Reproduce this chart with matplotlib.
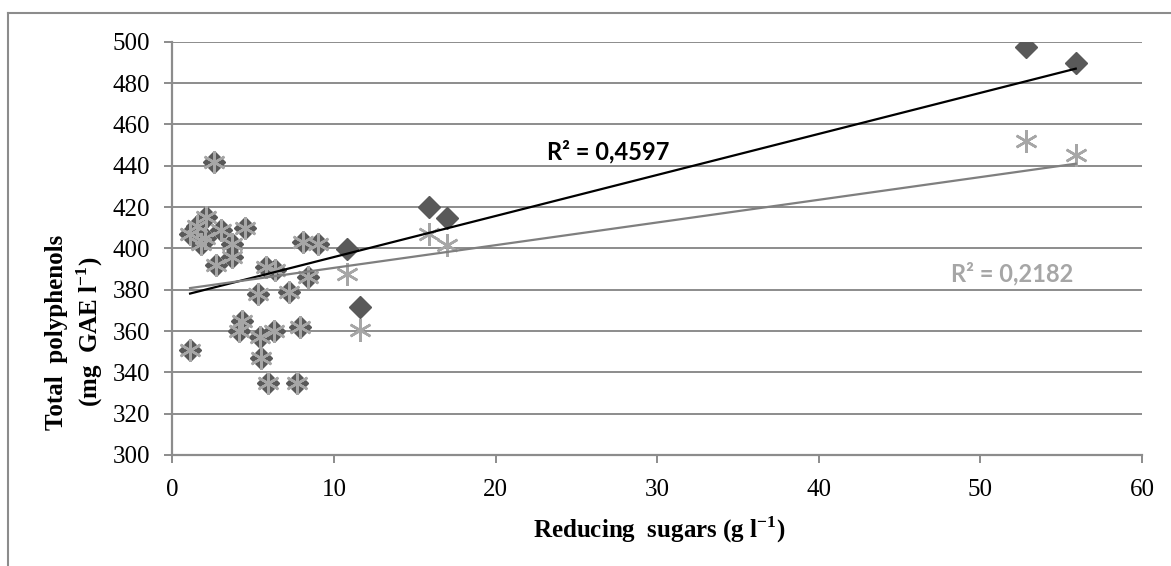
import numpy as np
import matplotlib
matplotlib.use("Agg")
import matplotlib.pyplot as plt
from matplotlib.lines import Line2D

plt.rcParams["font.family"] = ["Liberation Serif", "DejaVu Serif"]
plt.rcParams["mathtext.fontset"] = "custom"
plt.rcParams["mathtext.rm"] = "Liberation Serif"
plt.rcParams["mathtext.bf"] = "Liberation Serif:bold"

# 还原糖 (g/l) 与总多酚 (mg GAE/l), 两组数据 x 相同
sugars = [1.1, 1.1, 1.5, 1.8, 2.0, 2.1, 2.6, 2.7, 3.0, 3.7, 3.7, 4.1, 4.3, 4.5,
          5.3, 5.4, 5.5, 5.8, 5.9, 6.3, 6.35, 7.2, 7.7, 7.9, 8.1, 8.4, 9.0,
          10.8, 11.6, 15.9, 17.0, 52.8, 55.9]
poly_a = [351, 407, 411, 402, 405, 415, 442, 392, 409, 402, 396, 360, 365, 410,
          378, 357, 347, 391, 335, 360, 389.5, 379, 335, 362, 403, 386, 402,
          399.6, 371.4, 420, 414.6, 497.3, 489.5]
poly_b = [351, 407, 411, 402, 405, 415, 442, 392, 409, 402, 396, 360, 365, 410,
          378, 357, 347, 391, 335, 360, 389.5, 379, 335, 362, 403, 386, 402,
          387.8, 360.7, 406.9, 401.5, 451.9, 445.1]
r2_a = "R² = 0,4597"
r2_b = "R² = 0,2182"

W, H = 1171, 566
fig = plt.figure(figsize=(W / 100, H / 100), dpi=100)
ax = fig.add_axes([172.3 / W, 1 - 455 / H, (1142 - 172.3) / W, (455 - 41.7) / H])

x = np.array(sugars)
ya = np.array(poly_a); yb = np.array(poly_b)

ax.plot(x, ya, ls="none", marker="D", ms=11.5, color="#595959", mec="#595959", zorder=3)
ax.plot(x, yb, ls="none", marker=(6, 2, 0), ms=16.5, mew=1.8, color="#a6a6a6", zorder=4)

# 线性趋势线
xs = np.array([x.min(), x.max()])
ka, ba = np.polyfit(x, ya, 1)
kb, bb = np.polyfit(x, yb, 1)
ax.plot(xs, ka * xs + ba, color="black", lw=1.6, zorder=5)
ax.plot(xs, kb * xs + bb, color="#7f7f7f", lw=1.6, zorder=5)

ax.text(23.2, 447, r2_a, fontsize=17, fontweight="bold", family=["Lato", "DejaVu Sans"],
        color="black", va="center", ha="left")
ax.text(48.2, 388, r2_b, fontsize=17, fontweight="bold", family=["Lato", "DejaVu Sans"],
        color="#a6a6a6", va="center", ha="left")

ax.set_xlim(0, 60); ax.set_ylim(300, 500)
ax.set_xticks(range(0, 61, 10)); ax.set_yticks(range(300, 501, 20))
ax.yaxis.grid(True, color="#8c8c8c", lw=1.4)
ax.set_axisbelow(True)
for s in ["top", "right"]:
    ax.spines[s].set_visible(False)
for s in ["left", "bottom"]:
    ax.spines[s].set_color("#8c8c8c"); ax.spines[s].set_linewidth(1.6)
ax.tick_params(axis="both", colors="#8c8c8c", labelcolor="black", labelsize=18,
               length=6, width=1.4, direction="out")
ax.tick_params(axis="y", pad=10)
ax.tick_params(axis="x", pad=11)

fig.text(659 / W, 1 - 530 / H, r"Reducing  sugars (g l$^{\mathbf{-1}}$)", fontsize=18,
         fontweight="bold", ha="center", va="center")
fig.text(75 / W, 1 - 332 / H, "Total  polyphenols\n" + r"(mg  GAE l$^{\mathbf{-1}}$)",
         fontsize=18, fontweight="bold", rotation=90, ha="center", va="center",
         multialignment="center", linespacing=1.3)

# 外框
fig.add_artist(Line2D([8 / W, 1], [1 - 13 / H, 1 - 13 / H], color="#8c8c8c", lw=1.5))
fig.add_artist(Line2D([8 / W, 8 / W], [0, 1 - 13 / H], color="#8c8c8c", lw=1.5))

fig.savefig("out.png", dpi=100)
